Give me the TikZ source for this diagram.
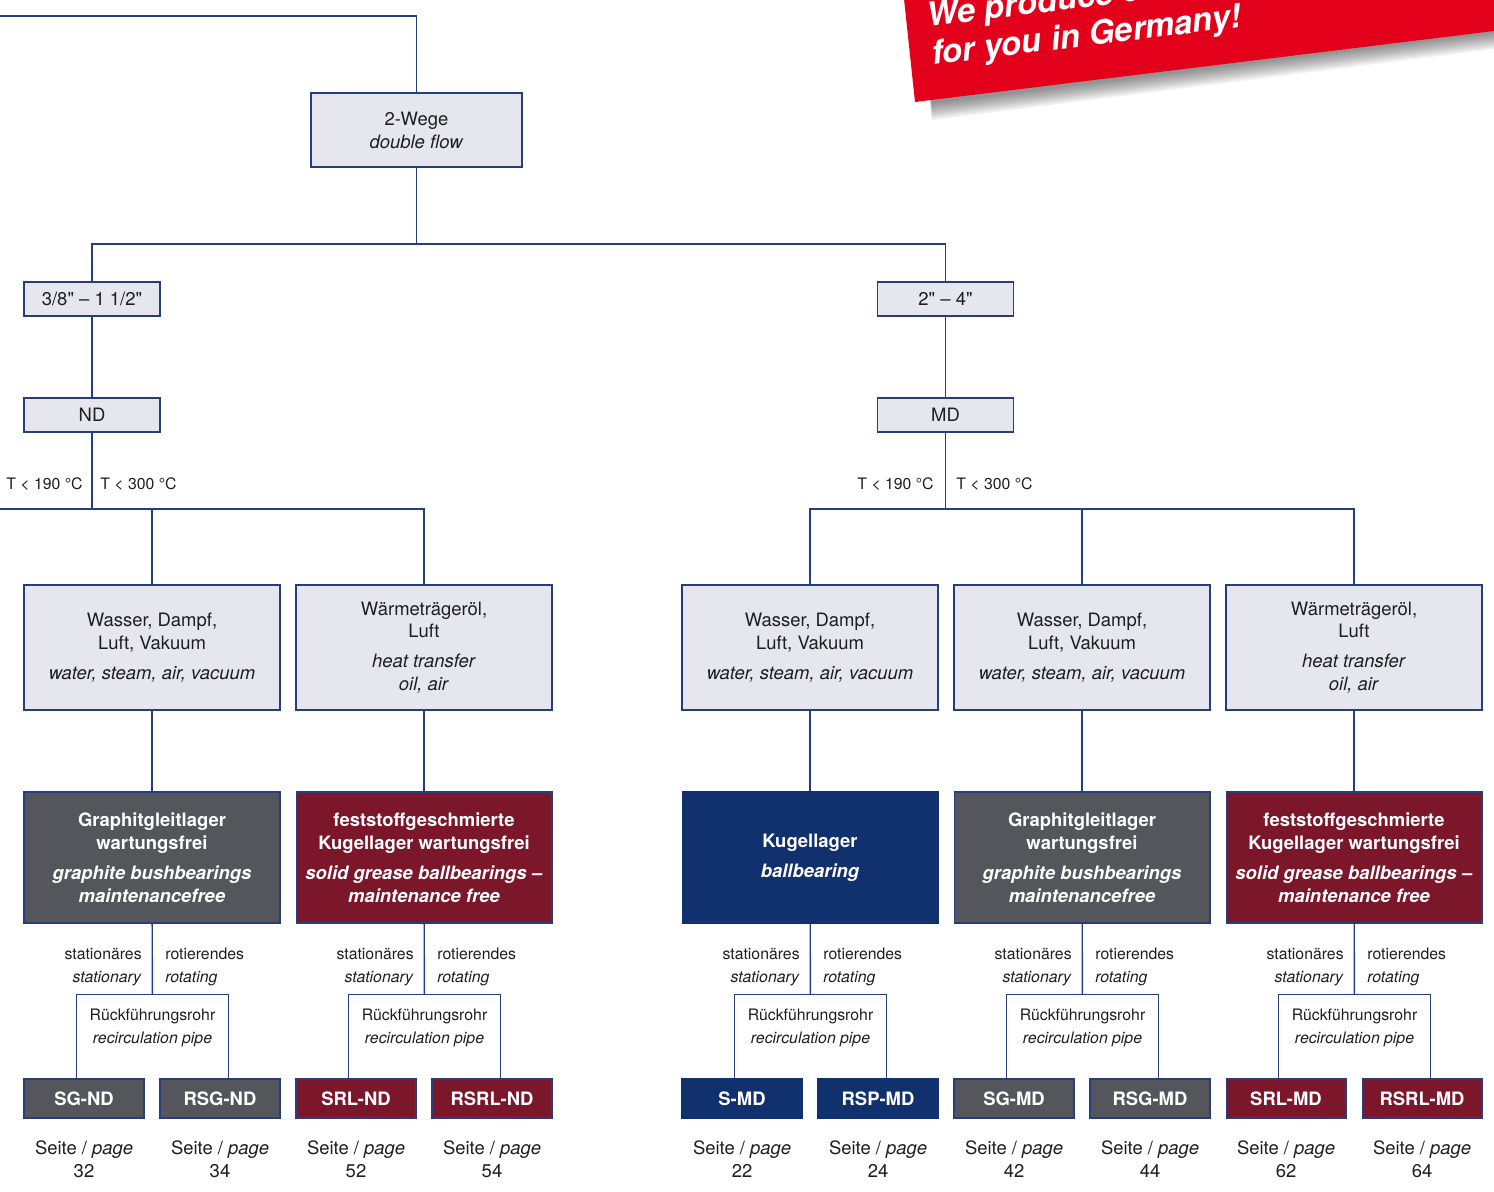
\documentclass[tikz,border=0pt]{standalone}
\usepackage{fontspec}
\setmainfont{TeX Gyre Heros}[Ligatures=TeXOff]
\usetikzlibrary{calc}
\definecolor{lineblue}{RGB}{38,62,122}
\definecolor{boxgrey}{RGB}{230,230,238}
\definecolor{txt}{RGB}{30,30,34}
\definecolor{graphgrey}{RGB}{85,86,91}
\definecolor{srlred}{RGB}{123,22,43}
\definecolor{ballblue}{RGB}{17,48,110}
\definecolor{bannerred}{RGB}{226,0,26}
\tikzset{
         conn/.style={draw=lineblue,line width=0.8pt},
         lbox/.style={draw=lineblue,line width=0.8pt,fill=boxgrey,text=txt,align=center,inner sep=0pt},
         sizebox/.style={lbox,minimum width=2.72cm,minimum height=0.68cm},
         medbox/.style={lbox,minimum width=5.12cm,minimum height=2.5cm},
         lagbox/.style={draw=lineblue,line width=0.6pt,text=white,align=center,inner sep=0pt,
                        minimum width=5.12cm,minimum height=2.62cm,font=\fontsize{10.5}{13}\selectfont\bfseries},
         typbox/.style={draw=lineblue,line width=0.6pt,text=white,inner sep=0pt,
                        minimum width=2.4cm,minimum height=0.78cm,font=\fontsize{10.5}{13}\selectfont\bfseries},
         small/.style={text=txt,inner sep=0pt,font=\fontsize{9}{13}\selectfont},
         rueckbox/.style={small,align=center,minimum width=3.02cm,minimum height=1.32cm},
         pagelbl/.style={text=txt,align=center,inner sep=0pt},
         bannertext/.style={text=white,rotate=7,inner sep=0pt,font=\fontsize{18.8}{21}\selectfont\bfseries\itshape}
        }

\begin{document}
\begin{tikzpicture}[x=0.02cm,y=-0.02cm,font=\fontsize{10.5}{13}\selectfont]
\useasboundingbox (0,0) rectangle (1494,1192);
% banner
\begin{scope}
\clip (0,0) rectangle (1494,1192);
\foreach \d in {2,4,...,18}
  \fill[black,opacity=0.06] (925,60) -- (932,102+\d) -- (1494,31+\d) -- (1494,0) -- cycle; % shadow
\fill[bannerred] (902,-20) -- (915,102) -- (1494,31) -- (1494,-20) -- cycle; % red banner
\node[bannertext,anchor=base west] (made1) at (928,27) {We produce exclusively};
\node[bannertext,anchor=base west] (made2) at (933,65) {for you in Germany!};
\end{scope}
% upper boxes
\node[lbox,minimum width=4.22cm,minimum height=1.48cm] (wege) at (416.5,130) {2-Wege\\\textit{double flow}};
\node[sizebox] (sizeND) at (92,299) {3/8" – 1 1/2"};
\node[sizebox] (sizeMD) at (945.5,299) {2" – 4"};
\node[sizebox] (nd) at (92,415) {ND};
\node[sizebox] (md) at (945.5,415) {MD};
\coordinate (topl) at (0,16); % free end left
\coordinate (jw) at (416.5,244);
\coordinate (ndl) at (0,509); % free end left
\coordinate (jnd) at (92,509);
\coordinate (jmd) at (945.5,509);
\node[small,anchor=east] (tnd1) at (83,484) {T < 190 °C};
\node[small,anchor=west] (tnd2) at (100,484) {T < 300 °C};
\node[small,anchor=east] (tmd1) at (934,484) {T < 190 °C};
\node[small,anchor=west] (tmd2) at (956,484) {T < 300 °C};
% media
\node[medbox] (medA) at (152,647.5) {Wasser, Dampf,\\Luft, Vakuum\\[4pt]\textit{water, steam, air, vacuum}};
\node[medbox] (medB) at (424,647.5) {Wärmeträgeröl,\\Luft\\[4pt]\textit{heat transfer}\\\textit{oil, air}};
\node[medbox] (medC) at (810,647.5) {Wasser, Dampf,\\Luft, Vakuum\\[4pt]\textit{water, steam, air, vacuum}};
\node[medbox] (medD) at (1082,647.5) {Wasser, Dampf,\\Luft, Vakuum\\[4pt]\textit{water, steam, air, vacuum}};
\node[medbox] (medE) at (1354,647.5) {Wärmeträgeröl,\\Luft\\[4pt]\textit{heat transfer}\\\textit{oil, air}};
% bearings
\node[lagbox,fill=graphgrey] (lagA) at (152,857.5) {Graphitgleitlager\\wartungsfrei\\[4pt]\textit{graphite bushbearings}\\\textit{maintenancefree}};
\node[lagbox,fill=srlred] (lagB) at (424,857.5) {feststoffgeschmierte\\Kugellager wartungsfrei\\[4pt]\textit{solid grease ballbearings –}\\\textit{maintenance free}};
\node[lagbox,fill=ballblue,draw=ballblue] (lagC) at (810,857.5) {Kugellager\\[4pt]\textit{ballbearing}};
\node[lagbox,fill=graphgrey] (lagD) at (1082,857.5) {Graphitgleitlager\\wartungsfrei\\[4pt]\textit{graphite bushbearings}\\\textit{maintenancefree}};
\node[lagbox,fill=srlred] (lagE) at (1354,857.5) {feststoffgeschmierte\\Kugellager wartungsfrei\\[4pt]\textit{solid grease ballbearings –}\\\textit{maintenance free}};
% stationary / rotating labels
\node[small,anchor=east,align=right] (stA) at (142,967) {stationäres\\\textit{stationary}};
\node[small,anchor=west,align=left] (rtA) at (165,967) {rotierendes\\\textit{rotating}};
\node[small,anchor=east,align=right] (stB) at (414,967) {stationäres\\\textit{stationary}};
\node[small,anchor=west,align=left] (rtB) at (437,967) {rotierendes\\\textit{rotating}};
\node[small,anchor=east,align=right] (stC) at (800,967) {stationäres\\\textit{stationary}};
\node[small,anchor=west,align=left] (rtC) at (823,967) {rotierendes\\\textit{rotating}};
\node[small,anchor=east,align=right] (stD) at (1072,967) {stationäres\\\textit{stationary}};
\node[small,anchor=west,align=left] (rtD) at (1095,967) {rotierendes\\\textit{rotating}};
\node[small,anchor=east,align=right] (stE) at (1344,967) {stationäres\\\textit{stationary}};
\node[small,anchor=west,align=left] (rtE) at (1367,967) {rotierendes\\\textit{rotating}};
% recirculation
\node[rueckbox] (rA) at (152.5,1028) {Rückführungsrohr\\\textit{recirculation pipe}};
\node[rueckbox] (rB) at (424.5,1028) {Rückführungsrohr\\\textit{recirculation pipe}};
\node[rueckbox] (rC) at (810.5,1028) {Rückführungsrohr\\\textit{recirculation pipe}};
\node[rueckbox] (rD) at (1082.5,1028) {Rückführungsrohr\\\textit{recirculation pipe}};
\node[rueckbox] (rE) at (1354.5,1028) {Rückführungsrohr\\\textit{recirculation pipe}};
% types
\node[typbox,fill=graphgrey] (sgnd) at (84,1098.5) {SG-ND};
\node[typbox,fill=graphgrey] (rsgnd) at (220,1098.5) {RSG-ND};
\node[typbox,fill=srlred] (srlnd) at (356,1098.5) {SRL-ND};
\node[typbox,fill=srlred] (rsrlnd) at (492,1098.5) {RSRL-ND};
\node[typbox,fill=ballblue,draw=ballblue] (smd) at (742,1098.5) {S-MD};
\node[typbox,fill=ballblue,draw=ballblue] (rspmd) at (878,1098.5) {RSP-MD};
\node[typbox,fill=graphgrey] (sgmd) at (1014,1098.5) {SG-MD};
\node[typbox,fill=graphgrey] (rsgmd) at (1150,1098.5) {RSG-MD};
\node[typbox,fill=srlred] (srlmd) at (1286,1098.5) {SRL-MD};
\node[typbox,fill=srlred] (rsrlmd) at (1422,1098.5) {RSRL-MD};
% page numbers
\node[pagelbl] (pg1) at (84,1159.5) {Seite / \textit{page}\\32};
\node[pagelbl] (pg2) at (220,1159.5) {Seite / \textit{page}\\34};
\node[pagelbl] (pg3) at (356,1159.5) {Seite / \textit{page}\\52};
\node[pagelbl] (pg4) at (492,1159.5) {Seite / \textit{page}\\54};
\node[pagelbl] (pg5) at (742,1159.5) {Seite / \textit{page}\\22};
\node[pagelbl] (pg6) at (878,1159.5) {Seite / \textit{page}\\24};
\node[pagelbl] (pg7) at (1014,1159.5) {Seite / \textit{page}\\42};
\node[pagelbl] (pg8) at (1150,1159.5) {Seite / \textit{page}\\44};
\node[pagelbl] (pg9) at (1286,1159.5) {Seite / \textit{page}\\62};
\node[pagelbl] (pg10) at (1422,1159.5) {Seite / \textit{page}\\64};
% wiring
\draw[conn] (topl) -| (wege.north); % top line
\draw[conn] (wege.south) -- (jw);
\draw[conn] (sizeND.north) |- (jw) -| (sizeMD.north);
\draw[conn] (sizeND) -- (nd);
\draw[conn] (sizeMD) -- (md);
\draw[conn] (nd.south) -- (jnd);
\draw[conn] (ndl) -| (medB.north);
\draw[conn] (medA.north) -- (medA.north |- ndl);
\draw[conn] (md.south) -- (jmd);
\draw[conn] (medC.north) |- (jmd) -| (medE.north);
\draw[conn] (medD.north) -- (medD.north |- jmd);
\draw[conn] (medA) -- (lagA);
\draw[conn] (medB) -- (lagB);
\draw[conn] (medC) -- (lagC);
\draw[conn] (medD) -- (lagD);
\draw[conn] (medE) -- (lagE);
\draw[conn] (lagA) -- (rA);
\draw[conn] (lagB) -- (rB);
\draw[conn] (lagC) -- (rC);
\draw[conn] (lagD) -- (rD);
\draw[conn] (lagE) -- (rE);
\draw[conn] (sgnd.north -| rA.west) |- (rA.north) -| (rsgnd.north -| rA.east);
\draw[conn] (srlnd.north -| rB.west) |- (rB.north) -| (rsrlnd.north -| rB.east);
\draw[conn] (smd.north -| rC.west) |- (rC.north) -| (rspmd.north -| rC.east);
\draw[conn] (sgmd.north -| rD.west) |- (rD.north) -| (rsgmd.north -| rD.east);
\draw[conn] (srlmd.north -| rE.west) |- (rE.north) -| (rsrlmd.north -| rE.east);
\end{tikzpicture}
\end{document}
